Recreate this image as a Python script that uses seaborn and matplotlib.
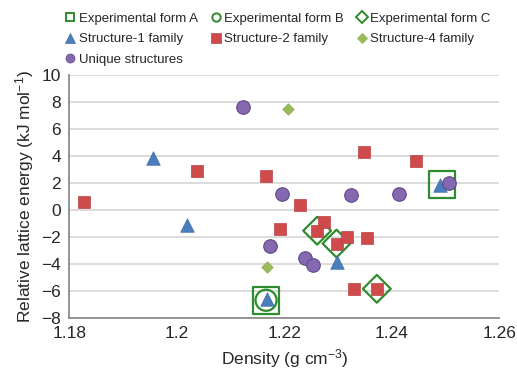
import pandas as pd
import seaborn as sns
from matplotlib import pyplot as plt

# values
s1_density = [1.1956, 1.2019, 1.2167, 1.2297, 1.2490]
s1_energy = [3.8, -1.1, -6.6, -3.9, 1.8]

s2_density = [1.1828, 1.2038, 1.2165, 1.2192, 1.2230, 1.2273, 1.2261, 1.2297,
              1.2317, 1.2353, 1.2349, 1.2444, 1.2329, 1.2372]
s2_energy = [0.6, 2.9, 2.5, -1.4, 0.35, -0.9, -1.55, -2.5,
             -2.0, -2.1, 4.25, 3.6, -5.9, -5.85]

s4_density = [1.2206, 1.2168]
s4_energy = [7.5, -4.2]

uniq_density = [1.2123, 1.2196, 1.2174, 1.2239, 1.2254, 1.2324, 1.2414, 1.2507]
uniq_energy = [7.6, 1.2, -2.65, -3.6, -4.1, 1.1, 1.15, 2.0]

expA_density = [1.2166, 1.2493]
expA_energy = [-6.7, 1.85]
expB_density = [1.2166]
expB_energy = [-6.7]
expC_density = [1.2261, 1.2297, 1.2372]
expC_energy = [-1.55, -2.5, -5.85]

x_ticks = [1.18, 1.2, 1.22, 1.24, 1.26]
x_tick_labels = ["1.18", "1.2", "1.22", "1.24", "1.26"]
y_ticks = list(range(-8, 11, 2))

sns.set_style("white")
plt.rcParams['font.family'] = ['Liberation Sans', 'DejaVu Sans']
plt.rcParams['mathtext.fontset'] = 'custom'
plt.rcParams['mathtext.rm'] = 'Liberation Sans'
plt.rcParams['mathtext.it'] = 'Liberation Sans:italic'

exp_green = "#2e8b2e"
series = [
    # label, x, y, marker, size, face, edge, lw
    ("Experimental form A", expA_density, expA_energy, "s", 370, "none", exp_green, 1.6),
    ("Experimental form B", expB_density, expB_energy, "o", 230, "none", exp_green, 1.6),
    ("Experimental form C", expC_density, expC_energy, "D", 200, "none", exp_green, 1.6),
    ("Structure-1 family", s1_density, s1_energy, "^", 95, "#4a7ebb", "#3f6ea8", 0.5),
    ("Structure-2 family", s2_density, s2_energy, "s", 72, "#cf4a4a", "#b94141", 0.5),
    ("Structure-4 family", s4_density, s4_energy, "D", 34, "#9bbb59", "#8aab4a", 0.5),
    ("Unique structures", uniq_density, uniq_energy, "o", 95, "#8468b0", "#5e4a86", 0.8),
]

fig, ax = plt.subplots(figsize=(5.17, 3.70), dpi=100)
fig.subplots_adjust(left=0.134, right=0.966, bottom=0.141, top=0.798)

handles = {}
for i, (label, xs, ys, marker, size, face, edge, lw) in enumerate(series):
    df = pd.DataFrame({"Density": xs, "Energy": ys})
    sns.scatterplot(data=df, x="Density", y="Energy", marker=marker, s=size,
                    facecolor=face, edgecolor=edge, linewidth=lw, ax=ax,
                    zorder=3 if i < 3 else 4, legend=False)
    handles[label] = plt.Line2D([], [], linestyle="none", marker=marker,
                                markersize=6 if i < 3 else (5 if marker == "D" else 6.5),
                                markerfacecolor=face, markeredgecolor=edge,
                                markeredgewidth=1.4 if i < 3 else 0.5)

ax.set_xlim(1.18, 1.26)
ax.set_ylim(-8, 10)
ax.set_xticks(x_ticks)
ax.set_xticklabels(x_tick_labels)
ax.set_yticks(y_ticks)
ax.yaxis.grid(True, color="#d9d9d9", linewidth=1.3, zorder=0)
ax.xaxis.grid(False)
ax.set_axisbelow(True)
for side in ["top", "right"]:
    ax.spines[side].set_visible(False)
for side in ["left", "bottom"]:
    ax.spines[side].set_color("#8c8c8c")
    ax.spines[side].set_linewidth(1.3)
ax.tick_params(axis="both", direction="out", length=4, width=1.2, color="#8c8c8c",
               labelsize=12.5, pad=2)
ax.set_xlabel("Density (g cm$^{-3}$)", fontsize=12.5, labelpad=4)
ax.set_ylabel("Relative lattice energy (kJ mol$^{-1}$)", fontsize=12.5, labelpad=4)

order = ["Experimental form A", "Structure-1 family", "Unique structures",
         "Experimental form B", "Structure-2 family",
         "Experimental form C", "Structure-4 family"]
ax.legend([handles[k] for k in order], order, ncol=3, frameon=False,
          loc="lower left", bbox_to_anchor=(-0.03, 1.005), fontsize=9.5,
          handletextpad=0.2, columnspacing=0.9, labelspacing=0.62,
          handlelength=0.9, borderaxespad=0.2)

fig.savefig("out.png", dpi=100)
